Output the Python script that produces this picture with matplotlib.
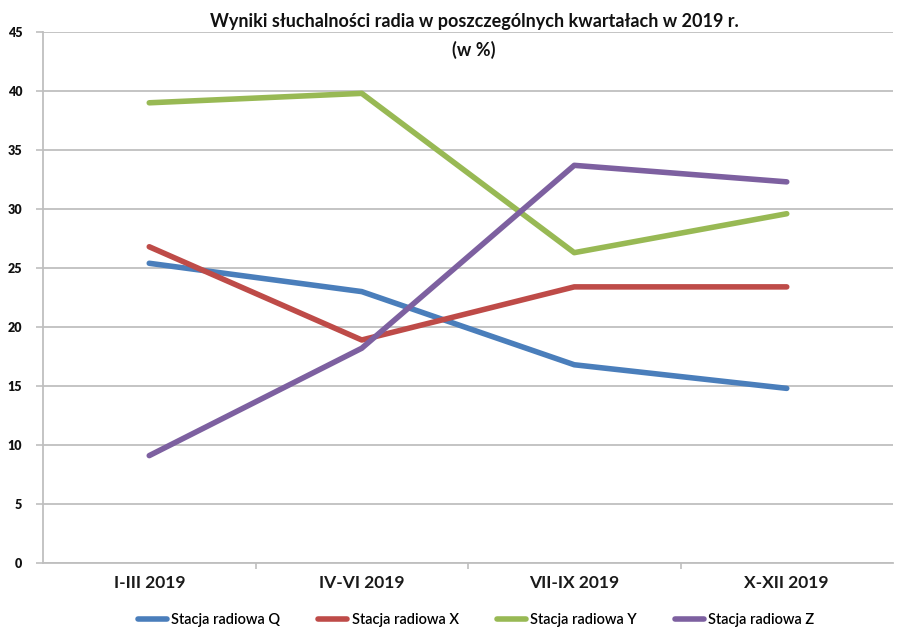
import matplotlib.pyplot as plt

quarters = ["I-III 2019", "IV-VI 2019", "VII-IX 2019", "X-XII 2019"]
station_q = [25.4, 23.0, 16.8, 14.8]
station_x = [26.8, 18.9, 23.4, 23.4]
station_y = [39.0, 39.8, 26.3, 29.6]
station_z = [9.1, 18.2, 33.7, 32.3]
series_names = ["Stacja radiowa Q", "Stacja radiowa X", "Stacja radiowa Y", "Stacja radiowa Z"]
yticks = list(range(0, 50, 5))

colors = ["#4a7ebb", "#be4b48", "#98b954", "#7d60a0"]
grid_col = "#bfbfbf"

plt.rcParams["font.family"] = ["Lato", "DejaVu Sans"]

fig = plt.figure(figsize=(9, 6.32), dpi=100)
ax = fig.add_axes([43 / 900, 1 - 563 / 632, 850 / 900, 531 / 632])

x = range(len(quarters))
for vals, name, c in zip([station_q, station_x, station_y, station_z], series_names, colors):
    ax.plot(x, vals, color=c, lw=4, label=name, solid_capstyle="round",
            solid_joinstyle="round", zorder=3)

ax.set_xlim(-0.5, len(quarters) - 0.5)
ax.set_ylim(0, 45)
ax.set_yticks(yticks)
ax.set_yticklabels([str(v) for v in yticks], fontsize=9, fontweight="heavy", color="#111111")
ax.yaxis.grid(True, color=grid_col, lw=1.3)
ax.set_axisbelow(True)

# category labels centered, ticks at the boundaries
ax.set_xticks(list(x))
ax.set_xticklabels(quarters, fontsize=12.5, fontweight="bold", color="#1a1a1a")
ax.tick_params(axis="x", length=0, pad=9)
ax.set_xticks([i + 0.5 for i in range(len(quarters) - 1)], minor=True)
ax.tick_params(axis="x", which="minor", length=4, color=grid_col, width=1.2)
ax.tick_params(axis="y", length=5, color=grid_col, width=1.2, pad=10)

for s in ["top", "right"]:
    ax.spines[s].set_visible(False)
ax.spines["left"].set_color(grid_col)
ax.spines["left"].set_linewidth(1.3)
ax.spines["bottom"].set_color(grid_col)
ax.spines["bottom"].set_linewidth(1.3)

fig.text(474 / 900, 1 - 22 / 632, "Wyniki słuchalności radia w poszczególnych kwartałach w 2019 r.",
         ha="center", va="center", fontsize=13, fontweight="bold", color="#111111")
fig.text(474 / 900, 1 - 50 / 632, "(w %)", ha="center", va="center",
         fontsize=13, fontweight="bold", color="#111111")

leg = fig.legend(loc="center", bbox_to_anchor=(476 / 900, 1 - 620 / 632), ncol=4,
                 frameon=False, fontsize=10.5, handlelength=2.0, handletextpad=0.3,
                 columnspacing=2.6)
for t in leg.get_texts():
    t.set_fontweight("semibold")

fig.savefig("out.png", dpi=100, facecolor="white")
